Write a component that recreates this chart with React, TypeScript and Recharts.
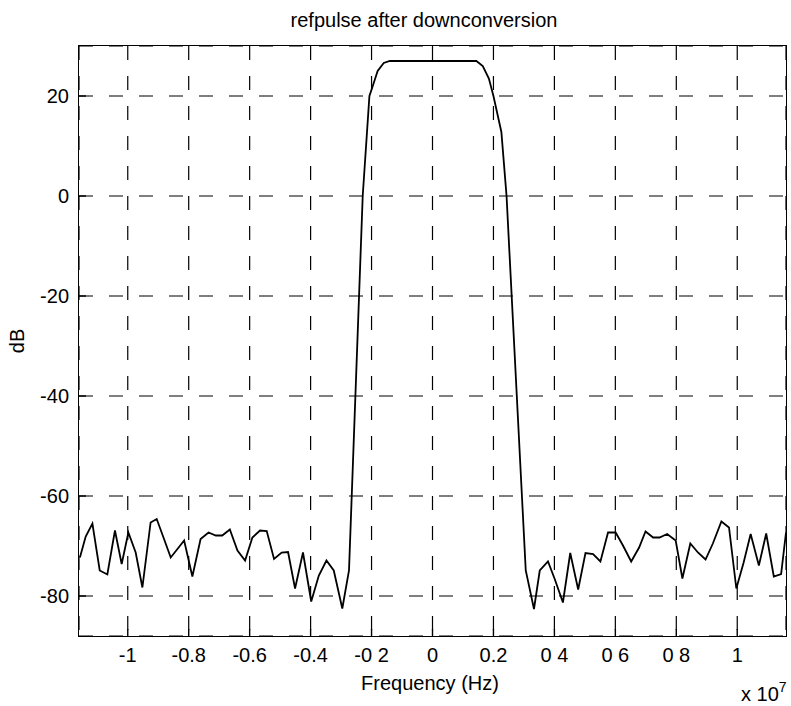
import { LineChart, Line, XAxis, YAxis, CartesianGrid } from 'recharts';

// frequency in units of 1e7 Hz
const freq = [
  -1.157, -1.138, -1.116, -1.092, -1.067, -1.042, -1.02, -0.998, -0.974, -0.952,
  -0.925, -0.905, -0.881, -0.859, -0.837, -0.815, -0.788, -0.761, -0.735, -0.711,
  -0.69, -0.665, -0.64, -0.615, -0.591, -0.566, -0.544, -0.52, -0.495, -0.474,
  -0.451, -0.425, -0.398, -0.373, -0.348, -0.324, -0.296, -0.274,
  -0.229, -0.207, -0.196, -0.18, -0.16, -0.14, 0, 0.144, 0.165, 0.185, 0.2, 0.226, 0.243, 0.306,
  0.333, 0.352, 0.379, 0.401, 0.428, 0.452, 0.478, 0.502, 0.527, 0.551,
  0.576, 0.601, 0.625, 0.652, 0.678, 0.699, 0.724, 0.745, 0.77, 0.798,
  0.82, 0.846, 0.871, 0.896, 0.92, 0.948, 0.973, 0.997, 1.021, 1.044,
  1.071, 1.095, 1.12, 1.144, 1.16,
];

const level = [
  -72.3, -68.1, -65.5, -74.9, -75.7, -66.9, -73.6, -67.3, -71.3, -78.3,
  -65.3, -64.6, -68.6, -72.3, -70.6, -68.9, -76.1, -68.6, -67.3, -67.9,
  -67.9, -66.7, -70.9, -72.9, -68.3, -66.9, -67.0, -72.6, -71.3, -71.2,
  -78.5, -71.3, -81.1, -75.9, -72.9, -74.9, -82.5, -74.9,
  0, 20, 22, 25, 26.6, 27, 27, 27, 26, 23.5, 20, 12.8, 0, -74.9,
  -82.6, -74.9, -73.1, -76.6, -81.3, -71.4, -78.7, -71.4, -71.6, -73.1,
  -67.3, -67.3, -69.9, -73.1, -70.3, -67.1, -68.3, -68.3, -67.6, -68.9,
  -76.5, -69.5, -71.3, -72.7, -69.5, -65.1, -66.3, -78.5, -73.3, -67.6,
  -73.9, -67.5, -76.1, -75.6, -67.3,
];

const xTicks = [-1, -0.8, -0.6, -0.4, -0.2, 0, 0.2, 0.4, 0.6, 0.8, 1];
const xTickLabels = ['-1', '-0.8', '-0.6', '-0.4', '-0 2', '0', '0.2', '0 4', '0 6', '0 8', '1'];
const yTicks = [-80, -60, -40, -20, 0, 20];

const data = freq.map((f, i) => ({ f, db: level[i] }));

const FONT = '"Liberation Sans", Arial, Helvetica, sans-serif';
const tickStyle = { fill: '#000', fontSize: 20, fontFamily: FONT };
const tickLineStyle = { stroke: '#000', strokeWidth: 1.4 };

const xLabel = (v: number) => {
  const i = xTicks.findIndex(t => Math.abs(t - v) < 1e-6);
  return i >= 0 ? xTickLabels[i] : String(v);
};

export default function App() {
  return (
    <div style={{ position: 'absolute', left: 0, top: 0, width: 791, height: 706, background: '#fff', fontFamily: FONT, color: '#000' }}>
      <LineChart width={791} height={706} data={data} margin={{ top: 46, right: 5, bottom: 40, left: 19 }}>
        <CartesianGrid stroke="#000" strokeDasharray="14 16" strokeWidth={1.2} />
        <XAxis
          dataKey="f"
          type="number"
          domain={[-1.16, 1.16]}
          ticks={xTicks}
          tickFormatter={xLabel}
          allowDataOverflow
          height={30}
          tickSize={-7}
          tickMargin={19}
          tick={tickStyle}
          axisLine={false}
          tickLine={tickLineStyle}
        />
        <XAxis
          xAxisId="top"
          orientation="top"
          type="number"
          domain={[-1.16, 1.16]}
          ticks={xTicks}
          allowDataOverflow
          height={0}
          tickSize={-7}
          tick={false}
          axisLine={false}
          tickLine={tickLineStyle}
        />
        <YAxis
          type="number"
          domain={[-88, 30]}
          ticks={yTicks}
          allowDataOverflow
          width={60}
          tickSize={-7}
          tickMargin={17}
          tick={tickStyle}
          axisLine={false}
          tickLine={tickLineStyle}
        />
        <YAxis
          yAxisId="right"
          orientation="right"
          type="number"
          domain={[-88, 30]}
          ticks={yTicks}
          allowDataOverflow
          width={0}
          tickSize={-7}
          tick={false}
          axisLine={false}
          tickLine={tickLineStyle}
        />
        <Line
          dataKey="db"
          type="linear"
          stroke="#000"
          strokeWidth={1.8}
          dot={false}
          isAnimationActive={false}
        />
      </LineChart>
      {/* plot frame */}
      <div style={{ position: 'absolute', left: 78.25, top: 45.25, width: 708.5, height: 591.5, border: '1.5px solid #000', boxSizing: 'border-box', pointerEvents: 'none' }} />
      <div style={{ position: 'absolute', left: 424, top: 9, transform: 'translateX(-50%)', fontSize: 20, lineHeight: '22px', whiteSpace: 'nowrap' }}>
        refpulse after downconversion
      </div>
      <div style={{ position: 'absolute', left: 430, top: 672, transform: 'translateX(-50%)', fontSize: 20, lineHeight: '22px', whiteSpace: 'nowrap' }}>
        Frequency (Hz)
      </div>
      <div style={{ position: 'absolute', left: 17, top: 341, transform: 'translate(-50%, -50%) rotate(-90deg)', fontSize: 20, lineHeight: '22px', whiteSpace: 'nowrap' }}>
        dB
      </div>
      <div style={{ position: 'absolute', left: 741, top: 683, fontSize: 20, lineHeight: '22px', whiteSpace: 'nowrap' }}>
        x 10<span style={{ position: 'relative', top: -9, fontSize: 14 }}>7</span>
      </div>
    </div>
  );
}
